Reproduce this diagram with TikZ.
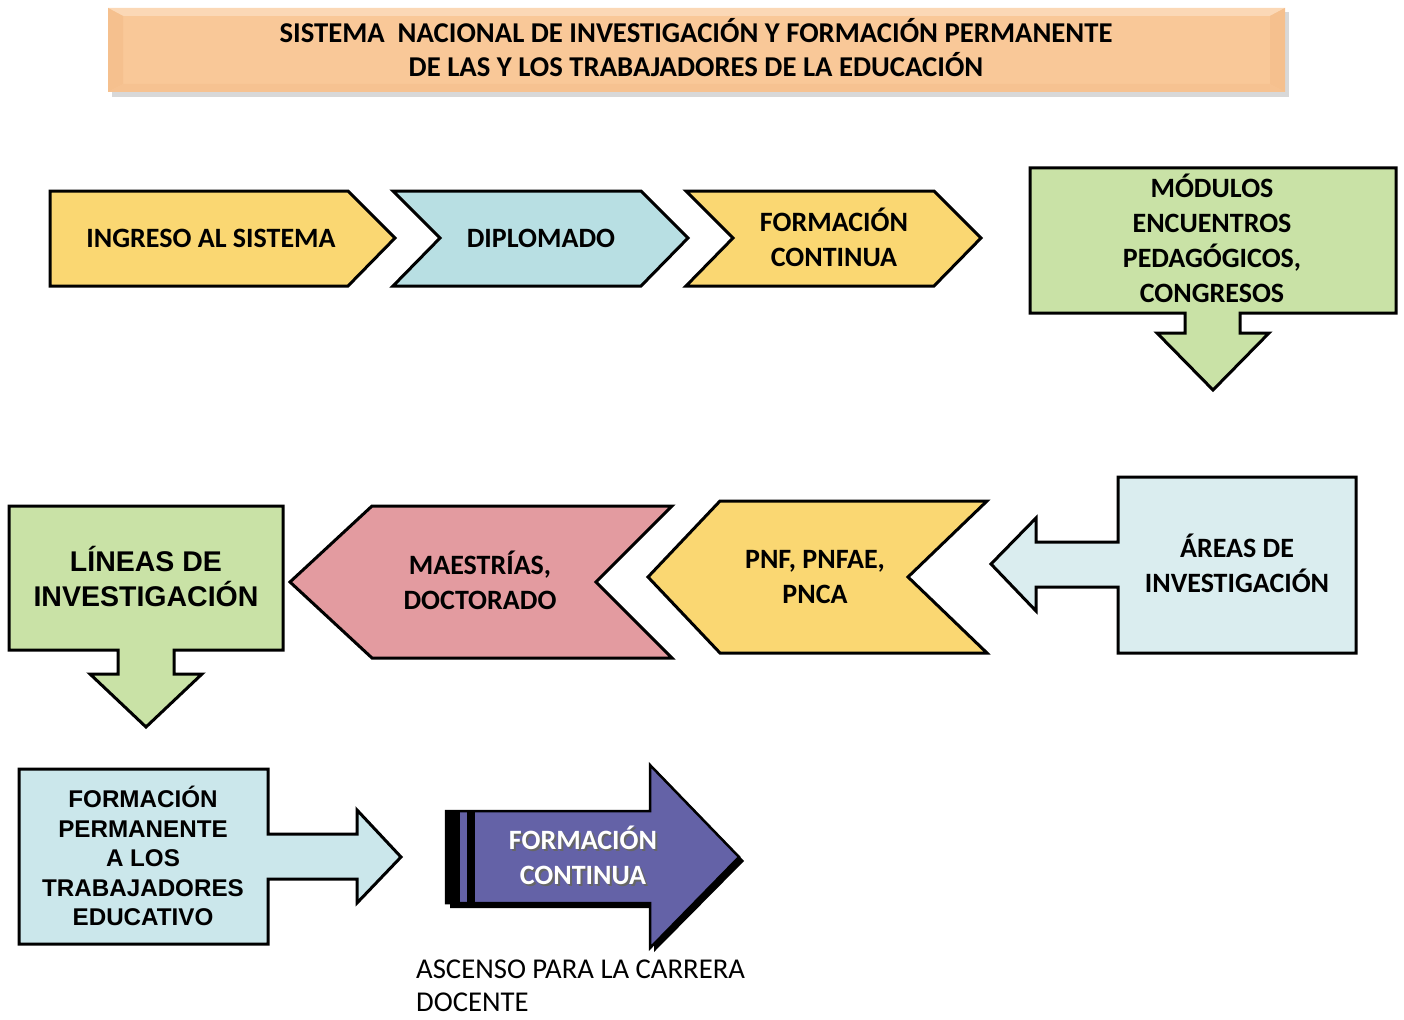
\documentclass[tikz,border=0pt]{standalone}
\usepackage{fontspec}
\setmainfont{Carlito}
\newfontfamily\arialf{Liberation Sans}
\definecolor{cyel}{HTML}{FAD772}
\definecolor{cblu}{HTML}{B8DFE3}
\definecolor{cgrn}{HTML}{C9E2A6}
\definecolor{cpink}{HTML}{E39BA0}
\definecolor{carea}{HTML}{DAEDEF}
\definecolor{cperm}{HTML}{CBE7EB}
\definecolor{cpurp}{HTML}{6462A7}
\definecolor{ctitle}{HTML}{F9C898}
\definecolor{ctitlelt}{HTML}{FBD8B6}
\definecolor{ctitledk}{HTML}{F5C08E}
\begin{document}
\begin{tikzpicture}[x=1pt,y=-1pt,
  shapeline/.style={draw=black,line width=3pt,line join=miter},
  lbl/.style={font=\fontsize{28}{35}\selectfont\bfseries,align=center,text=black,inner sep=0pt},
  albl/.style={font=\arialf\fontsize{28.5}{35}\selectfont\bfseries,align=center,text=black,inner sep=0pt},
  plbl/.style={font=\arialf\fontsize{24.2}{29.5}\selectfont\bfseries,align=center,text=black,inner sep=0pt}]
\useasboundingbox (0,0) rectangle (1404,1019);

% title banner
\fill[black!30,opacity=0.5] (112,12) rectangle (1289,97);
\fill[ctitle] (108,8) rectangle (1285,92);
\fill[ctitlelt] (108,8) -- (1285,8) -- (1270,16) -- (123,16) -- cycle;
\fill[ctitledk] (108,8) -- (123,16) -- (123,84) -- (108,92) -- cycle;
\fill[ctitledk] (1285,8) -- (1270,16) -- (1270,84) -- (1285,92) -- cycle;
\fill[ctitledk!70!ctitle] (108,92) -- (123,84) -- (1270,84) -- (1285,92) -- cycle;
\node[lbl,font=\fontsize{28.7}{34}\selectfont\bfseries] (title) at (696,47.5)
  {SISTEMA\ \ NACIONAL DE INVESTIGACIÓN Y FORMACIÓN PERMANENTE\\DE LAS Y LOS TRABAJADORES DE LA EDUCACIÓN};

% top chevrons
\draw[shapeline,fill=cyel] (50,191) -- (348,191) -- (395,238) -- (348,286) -- (50,286) -- cycle;
\node[lbl] (ingreso) at (211,238) {INGRESO AL SISTEMA};
\draw[shapeline,fill=cblu] (393,191) -- (641,191) -- (688,238) -- (641,286) -- (393,286) -- (440,238) -- cycle;
\node[lbl] (diplomado) at (541,238) {DIPLOMADO};
\draw[shapeline,fill=cyel] (686,191) -- (934,191) -- (981,238) -- (934,286) -- (686,286) -- (733,238) -- cycle;
\node[lbl] (fcont) at (834,237) {FORMACIÓN\\CONTINUA};

% modulos callout
\draw[shapeline,fill=cgrn] (1030,168) -- (1396,168) -- (1396,313) -- (1240,313) -- (1240,333) -- (1269,333)
  -- (1213,390) -- (1157,333) -- (1185,333) -- (1185,313) -- (1030,313) -- cycle;
\node[lbl] (modulos) at (1212,238.5) {MÓDULOS\\ENCUENTROS\\PEDAGÓGICOS,\\CONGRESOS};

% areas callout
\draw[shapeline,fill=carea] (1118,477) -- (1356,477) -- (1356,653) -- (1118,653) -- (1118,587) -- (1036,587)
  -- (1036,611) -- (991,564) -- (1036,518) -- (1036,542) -- (1118,542) -- cycle;
\node[lbl] (areas) at (1237,563.5) {ÁREAS DE\\INVESTIGACIÓN};

% middle chevrons
\draw[shapeline,fill=cyel] (720,501) -- (987,501) -- (908,577) -- (987,653) -- (720,653) -- (648,577) -- cycle;
\node[lbl] (pnf) at (815,577) {PNF, PNFAE,\\PNCA};
\draw[shapeline,fill=cpink] (372,506) -- (672,506) -- (596,582) -- (672,658) -- (372,658) -- (290,582) -- cycle;
\node[lbl] (maestrias) at (480,580.5) {MAESTRÍAS,\\DOCTORADO};

% lineas callout
\draw[shapeline,fill=cgrn] (9,506) -- (283,506) -- (283,650) -- (174,650) -- (174,674) -- (202,674)
  -- (146,727) -- (90,674) -- (118,674) -- (118,650) -- (9,650) -- cycle;
\node[albl] (lineas) at (146,576.5) {LÍNEAS DE\\INVESTIGACIÓN};

% formacion permanente callout
\draw[shapeline,fill=cperm] (19,769) -- (268,769) -- (268,834) -- (357,834) -- (357,810) -- (401,857)
  -- (357,903) -- (357,879) -- (268,879) -- (268,944) -- (19,944) -- cycle;
\node[plbl] (fperm) at (143,856) {FORMACIÓN\\PERMANENTE\\A LOS\\TRABAJADORES\\EDUCATIVO};

% purple arrow
\fill[black] (450,815) -- (654,815) -- (654,768) -- (744,861) -- (654,952) -- (654,908) -- (450,908) -- cycle;
\draw[line width=2.5pt,line join=miter,fill=cpurp] (446,811) -- (650,811) -- (650,765) -- (739,857)
  -- (650,948) -- (650,903) -- (446,903) -- cycle;
\fill[black] (446,811) rectangle (460,903);
\fill[black] (467,811) rectangle (475,903);
\node[lbl,text=black!60] at (585,857.5) {FORMACIÓN\\CONTINUA};
\node[lbl,text=white] (pcont) at (583,855.5) {FORMACIÓN\\CONTINUA};

% caption
\node[font=\fontsize{28.7}{33}\selectfont,align=left,anchor=north west,inner sep=0pt] (ascenso) at (416,960)
  {ASCENSO PARA LA CARRERA\\DOCENTE};
\end{tikzpicture}
\end{document}
